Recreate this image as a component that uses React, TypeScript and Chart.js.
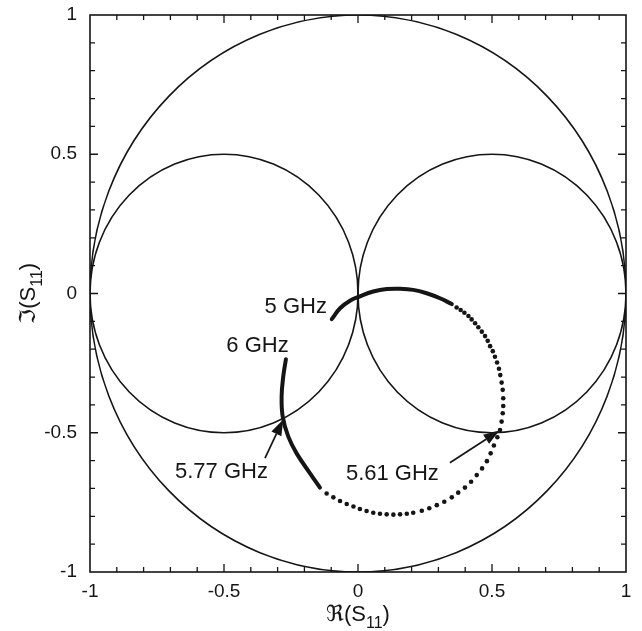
import React, { useEffect, useRef } from "react";
import { Chart, registerables } from "chart.js";
Chart.register(...registerables);

// Axis tick labels
const xTickValues = [-1, -0.5, 0, 0.5, 1];
const yTickValues = [-1, -0.5, 0, 0.5, 1];

// Reference circles (unit circle and the two half-radius circles)
const circleCenterRe = [0, -0.5, 0.5];
const circleCenterIm = [0, 0, 0];
const circleRadius = [1, 0.5, 0.5];

// S11 trace: 5 GHz sweep start (dense, appears solid)
const traceStartRe = [-0.098, -0.067, -0.030, 0.005, 0.057, 0.107, 0.157, 0.206, 0.256, 0.306, 0.350];
const traceStartIm = [-0.092, -0.053, -0.026, -0.011, 0.007, 0.016, 0.017, 0.013, 0.001, -0.017, -0.038];

// S11 trace: resonance region (sparse samples, appears dotted)
const traceMidRe = [
  0.368, 0.383, 0.397, 0.412, 0.424, 0.437, 0.449, 0.462, 0.474, 0.484,
  0.493, 0.503, 0.511, 0.519, 0.526, 0.531, 0.536, 0.540, 0.542, 0.542,
  0.540, 0.536, 0.530, 0.520, 0.507, 0.495, 0.481, 0.463, 0.443, 0.422,
  0.399, 0.374, 0.350, 0.322, 0.294, 0.266, 0.238, 0.206, 0.182, 0.157,
  0.132, 0.107, 0.082, 0.057, 0.032, 0.007, -0.017, -0.042, -0.067, -0.092,
  -0.117,
];
const traceMidIm = [
  -0.050, -0.059, -0.069, -0.081, -0.093, -0.107, -0.121, -0.137, -0.153, -0.170,
  -0.189, -0.207, -0.227, -0.248, -0.270, -0.293, -0.320, -0.346, -0.376, -0.404,
  -0.430, -0.460, -0.490, -0.516, -0.546, -0.574, -0.602, -0.628, -0.652, -0.676,
  -0.697, -0.715, -0.732, -0.748, -0.760, -0.771, -0.780, -0.787, -0.791, -0.793,
  -0.794, -0.793, -0.791, -0.787, -0.781, -0.774, -0.765, -0.756, -0.745, -0.732,
  -0.718,
];

// S11 trace: towards 6 GHz (dense, appears solid)
const traceEndRe = [-0.142, -0.179, -0.229, -0.260, -0.281, -0.285, -0.279, -0.269];
const traceEndIm = [-0.697, -0.646, -0.574, -0.514, -0.442, -0.370, -0.299, -0.236];

// Frequency markers
const markerLabels = ["5 GHz", "6 GHz", "5.77 GHz", "5.61 GHz"];

const FONT = "'Liberation Sans', Arial, 'DejaVu Sans', sans-serif";
const INK = "#151515";

function toPts(re: number[], im: number[]) {
  return re.map((r, i) => ({ x: r, y: im[i] }));
}

const smithPlugin = {
  id: "smithDecor",
  beforeDatasetsDraw(chart: any) {
    const { ctx, chartArea, scales } = chart;
    const x = scales.x;
    const y = scales.y;
    ctx.save();
    ctx.beginPath();
    ctx.rect(chartArea.left, chartArea.top, chartArea.width, chartArea.height);
    ctx.clip();
    ctx.strokeStyle = INK;
    ctx.lineWidth = 1.6;
    circleCenterRe.forEach((c, i) => {
      const cx = x.getPixelForValue(c);
      const cy = y.getPixelForValue(circleCenterIm[i]);
      const rx = Math.abs(x.getPixelForValue(c + circleRadius[i]) - cx);
      const ry = Math.abs(y.getPixelForValue(circleCenterIm[i] + circleRadius[i]) - cy);
      ctx.beginPath();
      ctx.ellipse(cx, cy, rx, ry, 0, 0, Math.PI * 2);
      ctx.stroke();
    });
    ctx.restore();
  },
  afterDraw(chart: any) {
    const { ctx, chartArea, scales } = chart;
    const x = scales.x;
    const y = scales.y;
    const { left, right, top, bottom } = chartArea;
    ctx.save();
    // frame
    ctx.strokeStyle = INK;
    ctx.lineWidth = 1.6;
    ctx.strokeRect(left, top, right - left, bottom - top);
    // inward ticks
    ctx.lineWidth = 1.3;
    for (let i = -9; i <= 9; i++) {
      const v = i / 10;
      const len = i % 5 === 0 ? 8 : 5;
      const px = x.getPixelForValue(v);
      const py = y.getPixelForValue(v);
      ctx.beginPath();
      ctx.moveTo(px, bottom);
      ctx.lineTo(px, bottom - len);
      ctx.moveTo(px, top);
      ctx.lineTo(px, top + len);
      ctx.moveTo(left, py);
      ctx.lineTo(left + len, py);
      ctx.moveTo(right, py);
      ctx.lineTo(right - len, py);
      ctx.stroke();
    }

    // annotations
    ctx.fillStyle = INK;
    ctx.font = `22px ${FONT}`;
    ctx.textBaseline = "middle";
    const label = (text: string, vx: number, vy: number, align: CanvasTextAlign) => {
      ctx.textAlign = align;
      ctx.fillText(text, x.getPixelForValue(vx), y.getPixelForValue(vy));
    };
    label(markerLabels[0], -0.116, -0.050, "right");
    label(markerLabels[1], -0.375, -0.187, "center");
    label(markerLabels[2], -0.336, -0.641, "right");
    label(markerLabels[3], -0.045, -0.647, "left");

    const arrow = (fx: number, fy: number, tx: number, ty: number) => {
      const x0 = x.getPixelForValue(fx);
      const y0 = y.getPixelForValue(fy);
      const x1 = x.getPixelForValue(tx);
      const y1 = y.getPixelForValue(ty);
      const ang = Math.atan2(y1 - y0, x1 - x0);
      const hl = 16;
      const hw = 5.5;
      const bx = x1 - hl * Math.cos(ang);
      const by = y1 - hl * Math.sin(ang);
      ctx.strokeStyle = INK;
      ctx.lineWidth = 1.7;
      ctx.beginPath();
      ctx.moveTo(x0, y0);
      ctx.lineTo(bx, by);
      ctx.stroke();
      ctx.beginPath();
      ctx.moveTo(x1, y1);
      ctx.lineTo(bx + hw * Math.sin(ang), by - hw * Math.cos(ang));
      ctx.lineTo(bx - hw * Math.sin(ang), by + hw * Math.cos(ang));
      ctx.closePath();
      ctx.fill();
    };
    arrow(-0.347, -0.591, -0.279, -0.452);
    arrow(0.343, -0.608, 0.528, -0.492);

    // axis titles with subscripts
    const drawTitle = (sym: string, cx: number, baseY: number) => {
      ctx.textAlign = "left";
      ctx.textBaseline = "alphabetic";
      const big = `22px ${FONT}`;
      const small = `16px ${FONT}`;
      const a = sym + "(S";
      ctx.font = big;
      const wa = ctx.measureText(a).width;
      const wc = ctx.measureText(")").width;
      ctx.font = small;
      const wb = ctx.measureText("11").width;
      let sx = cx - (wa + wb + wc) / 2;
      ctx.font = big;
      ctx.fillText(a, sx, baseY);
      sx += wa;
      ctx.font = small;
      ctx.fillText("11", sx, baseY + 7);
      sx += wb;
      ctx.font = big;
      ctx.fillText(")", sx, baseY);
    };
    drawTitle("\u211C", (left + right) / 2, 621);
    ctx.translate(35, (top + bottom) / 2);
    ctx.rotate(-Math.PI / 2);
    drawTitle("\u2111", 0, 0);
    ctx.restore();
  },
};

export default function App() {
  const ref = useRef<HTMLCanvasElement | null>(null);
  useEffect(() => {
    if (!ref.current) return;
    const tickFont = { size: 19, family: FONT };
    const chart = new Chart(ref.current, {
      type: "scatter",
      data: {
        datasets: [
          {
            data: toPts(traceStartRe, traceStartIm),
            showLine: true,
            borderColor: INK,
            borderWidth: 4,
            borderCapStyle: "round",
            pointRadius: 0,
            tension: 0.4,
          },
          {
            data: toPts(traceMidRe, traceMidIm),
            showLine: false,
            pointRadius: 2.3,
            pointBorderWidth: 0,
            pointBackgroundColor: INK,
          },
          {
            data: toPts(traceEndRe, traceEndIm),
            showLine: true,
            borderColor: INK,
            borderWidth: 4,
            borderCapStyle: "round",
            pointRadius: 0,
            tension: 0.4,
          },
        ] as any,
      },
      options: {
        animation: false,
        responsive: true,
        maintainAspectRatio: false,
        layout: { padding: { left: 0, right: 16, top: 15, bottom: 0 } },
        plugins: { legend: { display: false }, tooltip: { enabled: false } },
        scales: {
          x: {
            type: "linear",
            min: -1,
            max: 1,
            grid: { display: false, drawTicks: false },
            border: { display: false },
            afterBuildTicks: (s: any) => {
              s.ticks = xTickValues.map((v) => ({ value: v }));
            },
            afterFit: (s: any) => {
              s.height = 59;
              s.paddingLeft = 0;
              s.paddingRight = 0;
            },
            ticks: {
              autoSkip: false,
              maxRotation: 0,
              padding: 8,
              color: INK,
              font: tickFont,
              callback: (v: any) => String(v),
            },
          },
          y: {
            type: "linear",
            min: -1,
            max: 1,
            grid: { display: false, drawTicks: false },
            border: { display: false },
            afterBuildTicks: (s: any) => {
              s.ticks = yTickValues.map((v) => ({ value: v }));
            },
            afterFit: (s: any) => {
              s.width = 90;
              s.paddingTop = 0;
              s.paddingBottom = 0;
            },
            ticks: {
              autoSkip: false,
              padding: 13,
              color: INK,
              font: tickFont,
              callback: (v: any) => String(v),
            },
          },
        },
      },
      plugins: [smithPlugin],
    });
    return () => chart.destroy();
  }, []);
  return (
    <div style={{ position: "fixed", left: 0, top: 0, width: 642, height: 631, background: "#fff" }}>
      <canvas ref={ref} />
    </div>
  );
}
